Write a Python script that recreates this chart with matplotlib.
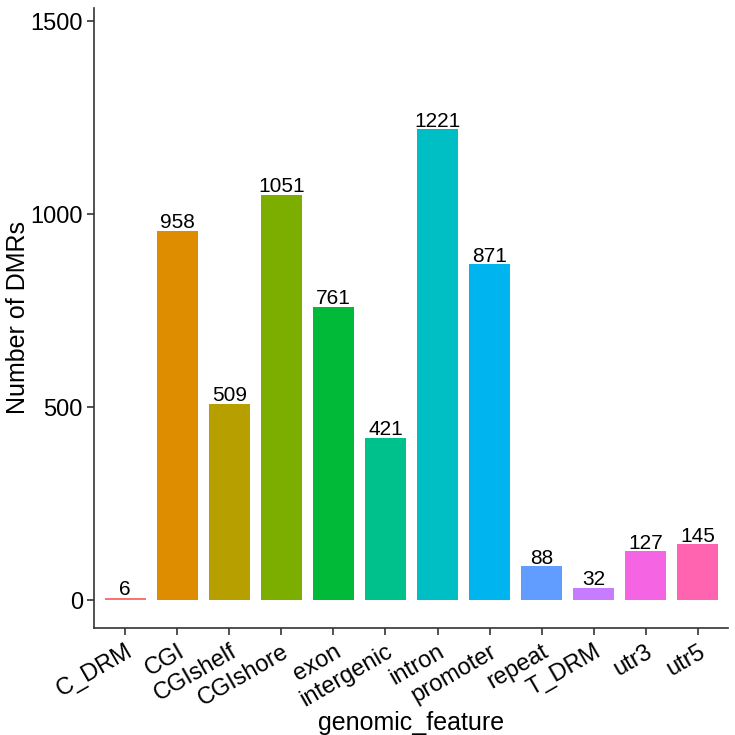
import matplotlib
matplotlib.use("Agg")
import matplotlib.pyplot as plt

features = ["C_DRM", "CGI", "CGIshelf", "CGIshore", "exon", "intergenic",
            "intron", "promoter", "repeat", "T_DRM", "utr3", "utr5"]
counts = [6, 958, 509, 1051, 761, 421, 1221, 871, 88, 32, 127, 145]
colors = ["#F8766D", "#DE8C00", "#B79F00", "#7CAE00", "#00BA38", "#00C08B",
          "#00BFC4", "#00B4F0", "#619CFF", "#C77CFF", "#F564E3", "#FF64B0"]
yticks = [0, 500, 1000, 1500]

plt.rcParams['font.family'] = ['Liberation Sans', 'DejaVu Sans']

fig = plt.figure(figsize=(7.35, 7.35), dpi=100)
ax = fig.add_axes([94/735, 1 - 628/735, (728 - 94)/735, (628 - 8)/735])

x = list(range(len(features)))
ax.bar(x, counts, width=0.79, color=colors)
for xi, c in zip(x, counts):
    ax.text(xi, c + 6, str(c), ha='center', va='baseline', fontsize=15, color='black')

ax.set_xlim(-0.6, len(features) - 1 + 0.58)
ax.set_ylim(-72.5, 1535)
ax.set_xticks(x)
ax.set_xticklabels(features, rotation=30, ha='right', rotation_mode='anchor', fontsize=17)
ax.set_yticks(yticks)
ax.set_yticklabels([str(t) for t in yticks], fontsize=17)
ax.tick_params(axis='both', length=5, width=1.2, color='#333333', labelcolor='black', pad=3)
ax.tick_params(axis='x', pad=4)

for s in ['top', 'right']:
    ax.spines[s].set_visible(False)
for s in ['left', 'bottom']:
    ax.spines[s].set_color('#333333')
    ax.spines[s].set_linewidth(1.2)

ax.set_ylabel("Number of DMRs", fontsize=18, labelpad=0)
ax.set_xlabel("genomic_feature", fontsize=18, labelpad=0)

fig.savefig("out.png", dpi=100)
